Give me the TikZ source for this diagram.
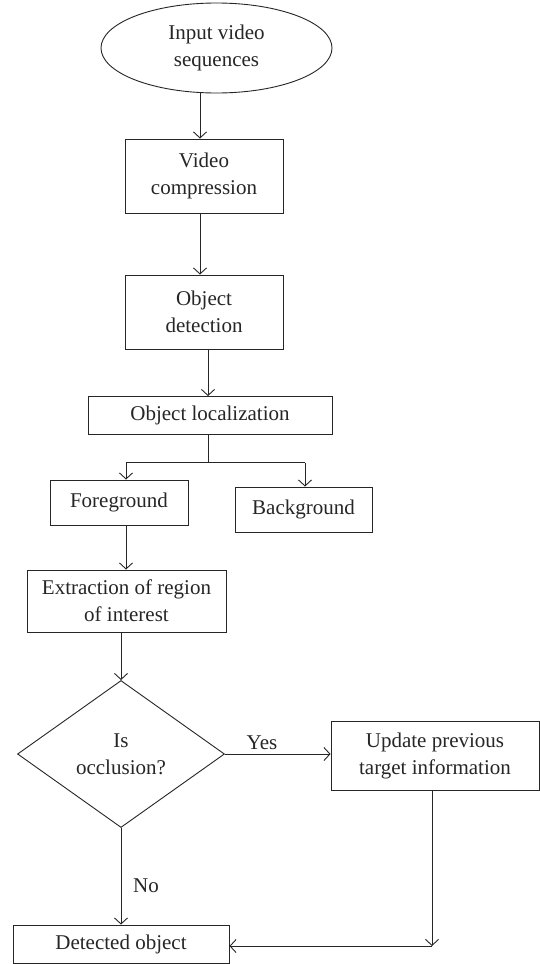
\documentclass[tikz,border=0pt]{standalone}
\usepackage{fontspec}
\setmainfont{Liberation Serif}
\usetikzlibrary{shapes.geometric,arrows.meta,calc}
\definecolor{ink}{HTML}{262626}
\begin{document}
\begin{tikzpicture}[x=1pt,y=-1pt,
  every node/.style={font=\fontsize{21}{27}\selectfont, text=ink},
  box/.style={draw=ink, line width=0.9pt, rectangle, inner sep=0pt, align=center},
  oval/.style={draw=ink, line width=0.9pt, ellipse, inner sep=0pt, align=center},
  decision/.style={draw=ink, line width=0.9pt, diamond, inner sep=0pt, align=center},
  arr/.style={draw=ink, line width=0.9pt, -{Straight Barb[length=6pt,width=13pt,line width=0.9pt]}},
  line/.style={draw=ink, line width=0.9pt}]
\useasboundingbox (0,0) rectangle (540,964);
\fill[white] (0,0) rectangle (540,964);

\node[oval, minimum width=231pt, minimum height=90pt] (inp) at (216.5,48) {Input video\\sequences};
\node[box, minimum width=158pt, minimum height=74pt] (vc) at (204,176) {Video\\compression};
\node[box, minimum width=158pt, minimum height=74pt] (od) at (204,312) {Object\\detection};
\node[box, minimum width=244pt, minimum height=38pt] (ol) at (210,415.5) {Object localization};
\node[box, minimum width=138pt, minimum height=45pt] (fg) at (119,502.5) {Foreground};
\node[box, minimum width=137pt, minimum height=45pt] (bg) at (303.5,509.5) {Background};
\node[box, minimum width=199pt, minimum height=62pt] (ex) at (126.5,601) {Extraction of region\\of interest};
\node[decision, minimum width=207pt, minimum height=147pt] (dia) at (121,754) {Is\\occlusion?};
\node[box, minimum width=208pt, minimum height=69pt] (up) at (435,755.5) {Update previous\\target information};
\node[box, minimum width=216pt, minimum height=38pt] (det) at (121,944) {Detected object};

\coordinate (a1) at (200,0);
\draw[arr] (inp.south -| a1) -- (vc.north -| a1);
\draw[arr] (vc.south -| a1) -- (od.north -| a1);
\coordinate (a2) at (208,0);
\draw[arr] (od.south -| a2) -- (ol.north -| a2);

\coordinate (br) at (208,462.5);
\coordinate (bl) at (126,462.5);
\coordinate (bb) at (305,462.5);
\draw[line] (ol.south -| br) -- (br);
\draw[line] (bl) -- (bb);
\draw[arr] (bl) -- (fg.north -| bl);
\draw[arr] (bb) -- (bg.north -| bb);

\draw[arr] (fg.south -| bl) -- (ex.north -| bl);
\draw[arr] (ex.south -| dia.north) -- (dia.north);
\draw[arr] (dia.east) -- (dia.east -| up.west);
\node[anchor=base] (yes) at (262,749) {Yes};
\draw[arr] (dia.south) -- (det.north);
\node[anchor=base] (no) at (146,892) {No};

\coordinate (c) at (432,946);
\draw[arr] (up.south -| c) -- (c);
\draw[arr] (c) -- (c -| det.east);
\end{tikzpicture}
\end{document}
